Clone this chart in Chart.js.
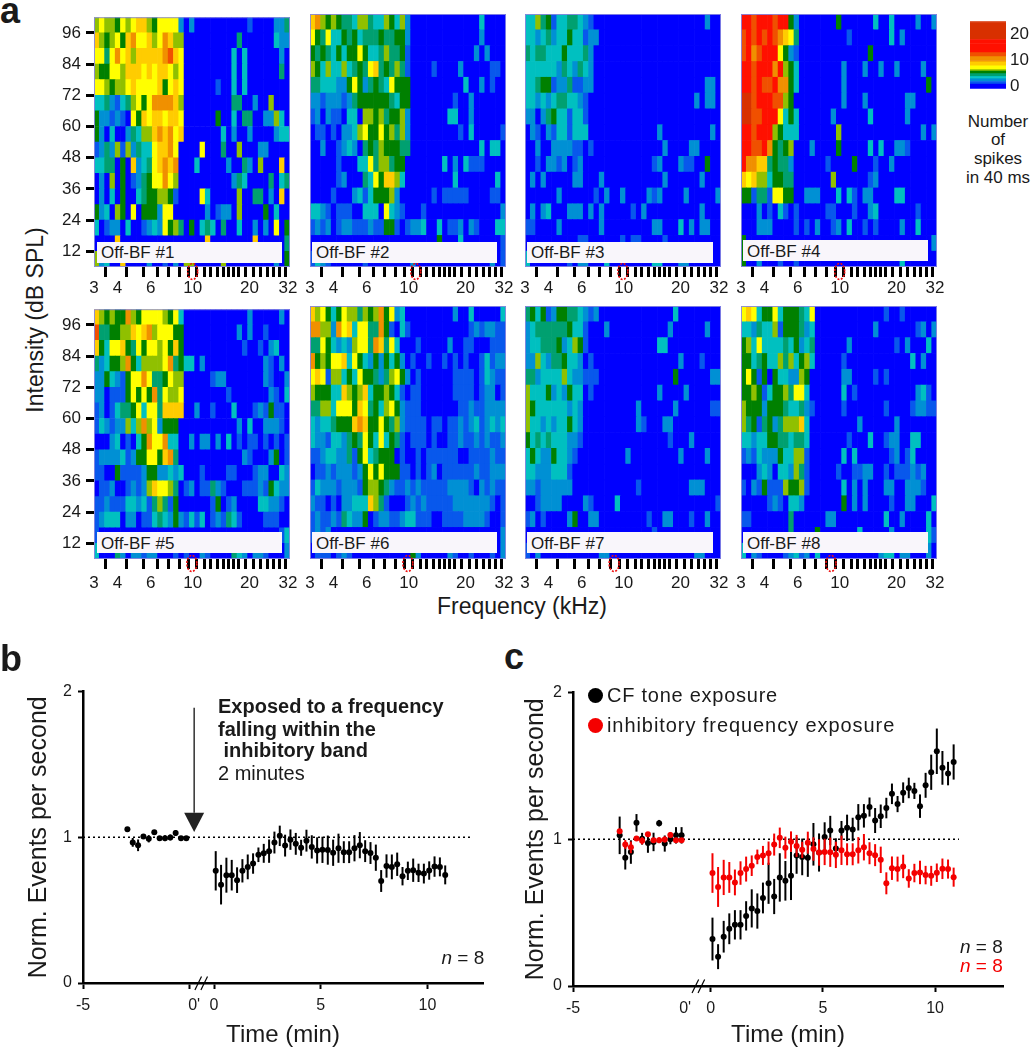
<!DOCTYPE html>
<html><head><meta charset="utf-8">
<script src="https://cdn.jsdelivr.net/npm/chart.js@4"></script>
<style>
html,body{margin:0;padding:0;background:#fff;width:1031px;height:1050px;overflow:hidden}
body{position:relative;font-family:"Liberation Sans",Arial,sans-serif;color:#1a1a1a}
canvas{position:absolute}
.t{position:absolute;white-space:pre;line-height:1}
</style></head><body>
<script>
// ---------- data: tuning-curve cells, one string per intensity row (top = 96-102 dB), one digit per frequency column
const offBf1=[
"6766576788 6577772020 0000000001 0000224","8656758977 8679866000 0000000400 0000322",
"7747978688 8889a87000 0000003030 0000020","6557768887 8788767000 0000003030 0000040",
"7765667877 7785787000 0001003030 0000000","3342134675 7999986000 0000004400 2006000",
"5221210758 7887887000 0005003044 0022630","5203002436 6898978000 0000302002 0000233",
"1242616243 3788970000 7000400600 0220000","3344050823 4789890003 0000020042 0600080",
"0206050124 5779760000 0000002430 0004034","0203050034 5566510000 7300000600 4402080",
"5230650705 5527700000 0201220600 0050300","3012203001 2327564050 3430400300 2020705",
"0000800000 0000000000 0800000000 8000004","6230080000 2001020660 0000600000 0000205"];
const offBf2=[
"8965654436 6433653620 0000000000 0030000","7547335453 4445445520 0000000000 0020000",
"5454353557 5334644510 0000000000 0202000","6536336345 4784546410 0001000020 0000110",
"4433322575 2454375550 0000000003 0020100","2212221245 5555543550 0000000100 2000000",
"1202110330 6656455620 0000003300 2000000","0110102236 7557564620 0000000010 3000001",
"0020012320 4546555440 0000000000 0030330","0000010003 3746645500 0000030203 1110000",
"0000012000 4375886300 0000000300 0000030","0000100023 1355562000 0001011111 0000110",
"3321011100 3330732100 0100000000 0000002","1212012211 1211551012 2300301120 2100033",
"0000000000 0000000000 0000500030 0000001","1321000000 1000000002 0000000000 0000201"];
const offBf3=[
"3364513344 3210000000 0000000000 0000200","3323423353 3122000000 0000000000 0000000",
"4344333533 3420000000 0000000000 0000000","3333332432 4320000000 0000000000 0000000",
"3345512241 1220000000 0000000000 0000220","3323234433 2100000000 0000000000 0020220",
"2202453313 3100000000 0000000000 0000000","0210213313 3300000000 0000020000 0000020",
"0020022221 1010000000 0000002000 0220000","0010221201 2000000000 0000120002 1100500",
"0202000002 2000200000 0000002000 0002000","0000002000 0001020020 0002120000 2000002",
"0202300022 2020200000 1020000000 0002000","1100002000 0000200000 0000220003 0202200",
"0000000000 1100000010 1100001000 0000000","3000000010 2200030000 0000330002 2000000"];
const offBf4=[
"bbabbbabb5 2000000050 0000030030 0002002","abababa987 4000000000 1000000030 2000000",
"ab9abbb752 1000000000 0000500000 0000000","bbabbb9b65 3000000002 0002002002 0000200",
"bbabaab995 3000000002 0000000000 0000050","ccabbbaa65 0000000002 0002000000 0220000",
"ccaabbb735 3000000200 0000300000 0200000","bbabbb6533 3000000060 0000000000 0000202",
"bbaab95456 0002000050 0000303002 2100000","b998845442 0000001000 0500010020 0000000",
"8786635544 0000000600 0000120000 0000000","5514417755 0022200030 3102200003 3000000",
"0002010310 1000001100 0100230000 0001000","0002220000 1010200120 3001010000 2003000",
"5000000000 0000000000 0000000000 0000002","5002000100 1000000000 0000000000 3000000"];
const offBf5=[
"8656559657 7776573000 0000000002 0000020","a445566878 9677755000 0000000202 0010000",
"8537785475 7767585000 0000000010 0102300","4235569536 6667945330 2000000000 0021020",
"2253215779 7445766000 0012200000 0021002","2201115757 5947667000 0000010000 0002103",
"1201344573 7748888002 0010003000 1215110","1321226369 6725550000 0000000203 0022210",
"0002301035 9779330020 2202030101 1010101","1222231255 7758940000 0000000021 0002501",
"1100511112 5522323000 1000011000 1220032","0112001212 6877640120 1142100011 1215322",
"1121113323 1464150000 0015012000 0332210","1233302201 1343252131 3012143100 0011100",
"1000000000 0000000000 0000000000 0000013","3000420221 2200010100 2100004320 2210002"];
const offBf6=[
"8675357664 6569572300 0000000200 3000003","9966297837 7449510310 0000000000 1212211",
"4475323267 7498473000 1000002001 1000111","9565778375 3252535201 0010010101 0013122",
"7871663537 5542467520 1000000111 1013211","6555338656 8355653101 1000000111 1012201",
"4466377758 7453675211 1000000011 2112222","3233455589 8557546211 1101101121 2312323",
"3221332454 7537354101 1101001121 1212112","1123322415 7345550100 1011111100 1111211",
"0112122212 5757555110 1012011111 1211222","1322212221 5665421121 2111112222 1021211",
"2110102233 3864100012 1211111222 2222101","1211214322 5012211233 1110011112 2221001",
"1212000000 0000000000 0000000000 0000002","0111012100 0000000005 2000002100 1000102"];
const offBf7=[
"4535125544 3212000000 0000000030 0000000","2344444453 3100020000 0000000200 0000200",
"2334445236 5100000000 0000033000 0000000","2263244533 2010000000 0000000002 0001000",
"4423333632 2111000000 0000000050 0000022","6333523253 3010000000 0000020000 2000000",
"6533333323 2000000000 0200000020 0000011","6332323353 2000000000 0210002200 0000000",
"5343433322 1000000000 0000000100 0200000","3532253321 0000000002 0000000002 0000200",
"3322233310 0000000000 0000000000 0000000","2212222220 0000000000 0100000000 0222000",
"0012222000 0210000300 0000000000 0000001","1201000025 0022000000 0001002200 0100200",
"0000000000 0000000000 0000100000 0000000","1020000000 0000220000 0000000000 0022000"];
const offBf8=[
"7873557355 5437000000 0000000100 1000000","3324336155 5423000000 0000020000 0001202",
"5637333343 5234000000 2000000001 0200030","5534533646 3563000001 0000000000 0030200",
"5751505332 2650000002 2000010100 0000000","5565135564 7730000003 0100000000 0002310",
"6555255543 3421000001 0000000100 0012211","6451452466 6830000000 0020000002 0000000",
"3323355443 4430000000 1000300122 0033000","1213222533 6610000003 0300000012 0130000",
"0002320332 6410000010 0112200101 1121200","1021511165 5610000003 0202000220 0222100",
"0000012103 3200000005 0202000010 0220003","1100000004 0000002200 0000000300 2000030",
"0000000004 0000500000 0030000020 0000031","3021000012 3120300000 0000002330 2200020"];
const frequencyColumns=[3.00,3.20,3.41,3.64,3.89,4.15,4.42,4.72,5.03,5.37,5.73,6.11,6.52,6.95,7.42,7.91,8.44,9.00,9.60,10.2,10.9,11.6,12.4,13.3,14.1,15.1,16.1,17.2,18.3,19.5,20.9,22.3,23.7,25.3,27.0,28.8,30.7];
const freqTicks=[3,4,5,6,7,8,9,10,11,12,13,14,15,16,17,18,20,22,24,26,28,30,32];
const freqLabels=[3,4,6,10,20,32];
const dbTicks=[12,24,36,48,60,72,84,96];
const dbRowSize=6;
const bestFreqMarks=[10,10.9,9.9,10,9.9,9.9,8.9,9.0];
const panelNames=["Off-BF #1","Off-BF #2","Off-BF #3","Off-BF #4","Off-BF #5","Off-BF #6","Off-BF #7","Off-BF #8"];
const colorbarLevels="00112233445567778889999aaabbbbbbbbbbcccccccccccccc";
const colorbarStep=0.5;
const colorbarTicks=[0,10,20];
// ---------- data: time courses
const preTimes=[-2.92,-2.67,-2.42,-2.17,-1.92,-1.66,-1.41,-1.16,-0.91,-0.66,-0.41,-0.16];
const postTimes=[0.08,0.33,0.58,0.83,1.08,1.33,1.58,1.83,2.08,2.33,2.58,2.83,3.08,3.33,3.58,3.83,4.08,4.33,4.58,4.83,5.08,5.33,5.58,5.83,6.08,6.33,6.58,6.83,7.08,7.33,7.58,7.83,8.08,8.33,8.58,8.83,9.08,9.33,9.58,9.83,10.08,10.33,10.58,10.83];
const inhibPre=[1.055,0.965,0.945,1.005,0.99,1.035,0.994,0.994,0.999,1.03,0.994,0.994];
const inhibPreErr=[0.01,0.03,0.04,0.015,0.025,0.01,0.015,0.02,0.02,0.02,0.01,0.01];
const inhibPost=[.77,.675,.74,.74,.706,.77,.797,.82,.88,.89,.905,.964,1.01,.943,.984,.955,.928,.977,.934,.91,.914,.912,.894,.925,.898,.898,.925,.946,.905,.892,.86,.70,.803,.797,.815,.733,.77,.774,.756,.751,.772,.799,.797,.742];
const inhibPostErr=[.135,.136,.12,.105,.088,.08,.085,.07,.05,.065,.08,.075,.07,.075,.07,.075,.055,.075,.08,.09,.09,.1,.09,.1,.075,.075,.09,.09,.075,.075,.09,.075,.08,.085,.08,.063,.063,.08,.063,.068,.063,.07,.065,.065];
const cfPre=[1.027,.874,.913,1.112,1.004,.975,.982,1.11,.971,1.0,1.027,1.027];
const cfPreErr=[.128,.08,.08,.06,.04,.067,.063,.022,.055,.034,.056,.056];
const cfPost=[.32,.20,.336,.39,.417,.417,.478,.529,.511,.60,.70,.61,.74,.717,.751,.89,.88,.874,.966,.91,1.016,1.06,.937,1.06,1.078,1.067,1.15,1.16,1.22,1.128,1.157,1.213,1.31,1.24,1.318,1.35,1.33,1.226,1.368,1.457,1.6,1.487,1.448,1.527];
const cfPostErr=[.146,.085,.108,.105,.10,.10,.10,.13,.12,.105,.14,.12,.165,.135,.165,.125,.125,.13,.145,.13,.1,.1,.07,.065,.09,.08,.09,.08,.065,.085,.08,.07,.07,.055,.07,.07,.055,.08,.085,.12,.155,.115,.08,.12];
const timeAxisTicks=[-5,0];
const timeTicksPost=[0,5,10];
const normTicks=[0,1,2];
const referenceLevel=1;
const exposureArrow={time:-0.93+1.137,from:1.89,head:1.168,tip:1.037};

// ---------- rendering helpers
const FONT='"Liberation Sans",Arial,sans-serif';
Chart.defaults.font.family=FONT;
Chart.defaults.color='#1a1a1a';
const palette={0:'#0000ff',1:'#0858ec',2:'#0090d4',3:'#00c0c0',4:'#00a070',5:'#008000',6:'#90c000',7:'#ffff00',8:'#ffcc00',9:'#f09000',a:'#f05000',b:'#ff1000',c:'#d83000'};
const BREAK_SHIFT=1.137;
function addCanvas(x,y,w,h){const c=document.createElement('canvas');c.width=w;c.height=h;c.style.left=x+'px';c.style.top=y+'px';c.style.width=w+'px';c.style.height=h+'px';document.body.appendChild(c);return c;}
function text(s,x,y,size,o={}){const d=document.createElement('div');d.className='t';if(o.html)d.innerHTML=s;else d.textContent=s;
 d.style.left=x+'px';d.style.top=y+'px';d.style.fontSize=size+'px';
 if(o.bold)d.style.fontWeight='bold';if(o.color)d.style.color=o.color;if(o.spacing)d.style.letterSpacing=o.spacing+'px';
 d.style.transform=(o.center?'translate(-50%,-50%)':'translate(0,-50%)')+(o.rot?' rotate('+o.rot+'deg)':'');
 document.body.appendChild(d);return d;}
const decode=m=>m.map(r=>r.replace(/ /g,''));

// ---------- heat-map panels
const panelLefts=[94,310,525,741], panelTops=[14,306], AREA_W=196, AREA_H=253;
const boxLefts=[[97,282],[312,497],[527,713],[743,928]];
const allPanels=[offBf1,offBf2,offBf3,offBf4,offBf5,offBf6,offBf7,offBf8];
const panelDecor={id:'panelDecor',
 afterDraw(chart,args,o){const {ctx,chartArea:a,scales}=chart;ctx.save();
  ctx.strokeStyle='rgba(135,135,225,.9)';ctx.lineWidth=1;ctx.strokeRect(a.left+.5,a.top+.5,a.width-1,a.height-1);
  const x=scales.xFreq.getPixelForValue(o.mark);
  ctx.strokeStyle='#ee1111';ctx.lineWidth=1.6;ctx.setLineDash([2,1.5]);
  ctx.beginPath();ctx.ellipse(x,a.bottom+4.5,5,8,0,0,Math.PI*2);ctx.stroke();ctx.restore();}};
allPanels.forEach((matrix,i)=>{
 const col=i%4,row=i<4?0:1,hasY=col===0;
 const rows=decode(matrix);
 const padL=hasY?0:12,yW=hasY?44:0,M_TOP=12,M_R=16,M_B=30;
 const w=(hasY?yW:padL)+AREA_W+M_R,h=M_TOP+AREA_H+M_B;
 const left=panelLefts[col]-(hasY?yW:padL),top=panelTops[row]-M_TOP;
 const rowsBottomFirst=[...rows].reverse();
 new Chart(addCanvas(left,top,w,h),{type:'bar',
  data:{labels:frequencyColumns,datasets:rowsBottomFirst.map((r,ri)=>({
    label:(6+ri*dbRowSize)+' dB',
    data:frequencyColumns.map(()=>ri===0?2*dbRowSize:dbRowSize),
    backgroundColor:c=>palette[r[c.dataIndex]||'0'],
    categoryPercentage:1,barPercentage:1,borderWidth:0}))},
  options:{responsive:false,animation:false,events:[],devicePixelRatio:1,
   layout:{padding:{left:padL,top:M_TOP,right:M_R,bottom:0}},
   plugins:{legend:{display:false},tooltip:{enabled:false},panelDecor:{mark:bestFreqMarks[i]}},
   scales:{
    x:{type:'category',stacked:true,display:false,offset:true},
    xFreq:{type:'logarithmic',position:'bottom',min:3,max:32.8,
      afterBuildTicks(s){s.ticks=freqTicks.map(v=>({value:v}));},
      afterFit(s){s.height=M_B;},
      border:{display:false},
      grid:{drawOnChartArea:false,tickLength:10,tickWidth:3,tickColor:'#000'},
      ticks:{autoSkip:false,maxRotation:0,minRotation:0,padding:row?4:1,color:'#1a1a1a',font:{size:17},
        callback:v=>freqLabels.includes(v)?String(v):''}},
    y:{type:'linear',stacked:true,min:6,max:102,display:hasY,position:'left',
      afterBuildTicks(s){s.ticks=dbTicks.map(v=>({value:v}));},
      afterFit(s){s.width=yW;},
      border:{display:false},
      grid:{drawOnChartArea:false,tickLength:8,tickWidth:3,tickColor:'#000'},
      ticks:{padding:5,color:'#1a1a1a',font:{size:17}}}
   }},
  plugins:[panelDecor]});
 // white caption box
 const b=document.createElement('div');const by=row?532:(col===3?240:241.5);
 b.style.cssText=`position:absolute;left:${boxLefts[col][0]}px;top:${by}px;width:${boxLefts[col][1]-boxLefts[col][0]}px;height:21px;background:#f9f6fb`;
 document.body.appendChild(b);
 text(panelNames[i],boxLefts[col][0]+4,by+10.5,17);
});

// ---------- colour bar
(function(){
 const levels=colorbarLevels.split('');
 new Chart(addCanvas(970,7,61,96),{type:'bar',
  data:{labels:['spikes'],datasets:[
    {label:'below 0',data:[-0.8],backgroundColor:palette[0],categoryPercentage:1,barPercentage:1,borderWidth:0},
    ...levels.map((l,i)=>({label:String(i*colorbarStep),data:[colorbarStep],backgroundColor:palette[l],categoryPercentage:1,barPercentage:1,borderWidth:0}))]},
  options:{responsive:false,animation:false,events:[],devicePixelRatio:1,
   layout:{padding:{top:10,bottom:10,left:0,right:0}},
   plugins:{legend:{display:false},tooltip:{enabled:false}},
   scales:{x:{type:'category',stacked:true,display:false},
    y:{position:'right',stacked:true,min:-0.8,max:25,
      afterBuildTicks(s){s.ticks=colorbarTicks.map(v=>({value:v}));},
      afterFit(s){s.width=25;},
      border:{display:false},grid:{display:false,drawTicks:false,tickLength:0},
      ticks:{padding:4,color:'#1a1a1a',font:{size:17}}}}}});
})();
[["Number",121],["of",139],["spikes",158],["in 40 ms",177]].forEach(([s,y])=>text(s,998,y,17,{center:true}));

// ---------- time-course charts
const errorBars={id:'errorBars',afterDatasetDraw(chart,args){
  const ds=chart.data.datasets[args.index];if(!ds.errs)return;
  const {ctx,scales:{x,y}}=chart;ctx.save();ctx.strokeStyle=ds.backgroundColor;ctx.lineWidth=2;
  ds.data.forEach((p,i)=>{const px=x.getPixelForValue(p.x);ctx.beginPath();
    ctx.moveTo(px,y.getPixelForValue(p.y-ds.errs[i]));ctx.lineTo(px,y.getPixelForValue(p.y+ds.errs[i]));ctx.stroke();});
  ctx.restore();}};
const axisBreak={id:'axisBreak',afterDraw(chart,a,o){
  const {ctx,scales:{x,y}}=chart;const py=y.getPixelForValue(0),c=x.getPixelForValue(o.at);ctx.save();
  ctx.strokeStyle='#000';ctx.lineWidth=1.2;
  [-3,3].forEach(d=>{ctx.beginPath();ctx.moveTo(c+d-3.3,py+7);ctx.lineTo(c+d+3.3,py-6.5);ctx.stroke();});
  ctx.restore();}};
const arrowPlugin={id:'arrowPlugin',afterDatasetsDraw(chart){
  const {ctx,scales:{x,y}}=chart;const ar=exposureArrow,px=x.getPixelForValue(ar.time-BREAK_SHIFT);ctx.save();
  ctx.strokeStyle='#222';ctx.fillStyle='#222';ctx.lineWidth=1.4;ctx.beginPath();
  ctx.moveTo(px,y.getPixelForValue(ar.from));ctx.lineTo(px,y.getPixelForValue(ar.head));ctx.stroke();
  ctx.beginPath();ctx.moveTo(px-10,y.getPixelForValue(ar.head));ctx.lineTo(px+10,y.getPixelForValue(ar.head));ctx.lineTo(px,y.getPixelForValue(ar.tip));ctx.closePath();ctx.fill();
  ctx.restore();}};
function seriesPoints(pre,post){return [...preTimes.map((t,i)=>({x:t-BREAK_SHIFT,y:pre[i]})),...postTimes.map((t,i)=>({x:t,y:post[i]}))];}
function timeChart(cfg){
 const M_TOP=12,M_R=10,Y_W=83,X_H=cfg.xh;
 const w=Y_W+cfg.aw+M_R,h=M_TOP+cfg.ah+X_H;
 const tickVals=[...timeAxisTicks.map(t=>t-BREAK_SHIFT),...timeTicksPost];
 const labelFor=v=>{if(v<-5)return '-5';if(v<-1)return cfg.primeLabel;return String(Math.round(v));};
 new Chart(addCanvas(cfg.left-Y_W,cfg.top-M_TOP,w,h),{type:'scatter',
  data:{datasets:[...cfg.series.map(s=>({label:s.label,data:seriesPoints(s.pre,s.post),errs:[...s.preErr,...s.postErr],
      backgroundColor:s.color,borderColor:s.color,pointRadius:3,pointBorderWidth:0,showLine:false})),
    {label:'baseline',type:'line',data:[{x:-5-BREAK_SHIFT,y:referenceLevel},{x:cfg.refEnd,y:referenceLevel}],borderColor:'#000',borderWidth:1.5,borderDash:[2,3],pointRadius:0,fill:false}]},
  options:{responsive:false,animation:false,events:[],devicePixelRatio:1,
   layout:{padding:{top:M_TOP,right:M_R,left:0,bottom:0}},
   plugins:{legend:{display:false},tooltip:{enabled:false},axisBreak:{at:cfg.breakAt}},
   scales:{
    x:{type:'linear',min:-5-BREAK_SHIFT,max:cfg.xMax,
      afterBuildTicks(s){s.ticks=tickVals.map(v=>({value:v}));},
      afterFit(s){s.height=X_H;},
      border:{color:'#000',width:2.5},
      grid:{drawOnChartArea:false,tickLength:6,tickWidth:2,tickColor:c=>(cfg.hidePrimeTick&&c.index===1)?'rgba(0,0,0,0)':'#000'},
      ticks:{autoSkip:false,maxRotation:0,minRotation:0,padding:7,color:'#1a1a1a',font:{size:16},callback:labelFor},
      title:{display:true,text:'Time (min)',color:'#1a1a1a',font:{size:24,lineHeight:1},padding:{top:0,bottom:0}}},
    y:{type:'linear',min:0,max:2,
      afterBuildTicks(s){s.ticks=normTicks.map(v=>({value:v}));},
      afterFit(s){s.width=Y_W;},
      border:{color:'#000',width:2.5},
      grid:{drawOnChartArea:false,tickLength:5,tickWidth:2,tickColor:'#000'},
      ticks:{padding:6,color:'#1a1a1a',font:{size:16}},
      title:{display:true,text:'Norm. Events per second',color:'#1a1a1a',font:{size:25,lineHeight:1},padding:{top:cfg.ytitlePad,bottom:cfg.ytitlePad}}}
   }},
  plugins:[errorBars,axisBreak,...(cfg.arrow?[arrowPlugin]:[])]});
}
timeChart({left:83,top:688,aw:400,ah:295,xh:64,xMax:12.6,refEnd:12.0,breakAt:-0.6,primeLabel:"  0'",ytitlePad:26.5,arrow:true,
 series:[{label:'inhibitory frequency exposure',color:'#000000',pre:inhibPre,preErr:inhibPreErr,post:inhibPost,postErr:inhibPostErr}]});
timeChart({left:573,top:689,aw:430,ah:297,xh:61,xMax:13.03,refEnd:11.07,breakAt:-0.55,primeLabel:"0'",hidePrimeTick:true,ytitlePad:34,
 series:[{label:'inhibitory frequency exposure',color:'#f40000',pre:inhibPre,preErr:inhibPreErr,post:inhibPost,postErr:inhibPostErr},
         {label:'CF tone exposure',color:'#000000',pre:cfPre,preErr:cfPreErr,post:cfPost,postErr:cfPostErr}]});

// ---------- page text
text("a",0,11,36,{bold:true});
text("b",0,659,36,{bold:true});
text("c",504,657,36,{bold:true});
text("Intensity (dB SPL)",35,320,23,{center:true,rot:-90});
text("Frequency (kHz)",522,606,23,{center:true});
text("Exposed to a frequency",218,705.5,20,{bold:true});
text("falling within the",218,728.5,20,{bold:true});
text(" inhibitory band",218,750,20,{bold:true});
text("2 minutes",218,772.5,20);
text("<i>n</i> = 8",441.5,957,19,{html:true});
text("<i>n</i> = 8",960,945.5,19,{html:true});
text("<i>n</i> = 8",960,965,19,{html:true,color:'#f40000'});
function dot(x,y,color){const d=document.createElement('div');d.style.cssText=`position:absolute;left:${x-7.5}px;top:${y-7.5}px;width:15px;height:15px;border-radius:50%;background:${color}`;document.body.appendChild(d);}
dot(595,695,'#000');dot(595,725,'#f40000');
text("CF tone exposure",607,695,20,{spacing:0.75});
text("inhibitory frequency exposure",607,725,20,{spacing:0.93});
</script>
</body></html>
